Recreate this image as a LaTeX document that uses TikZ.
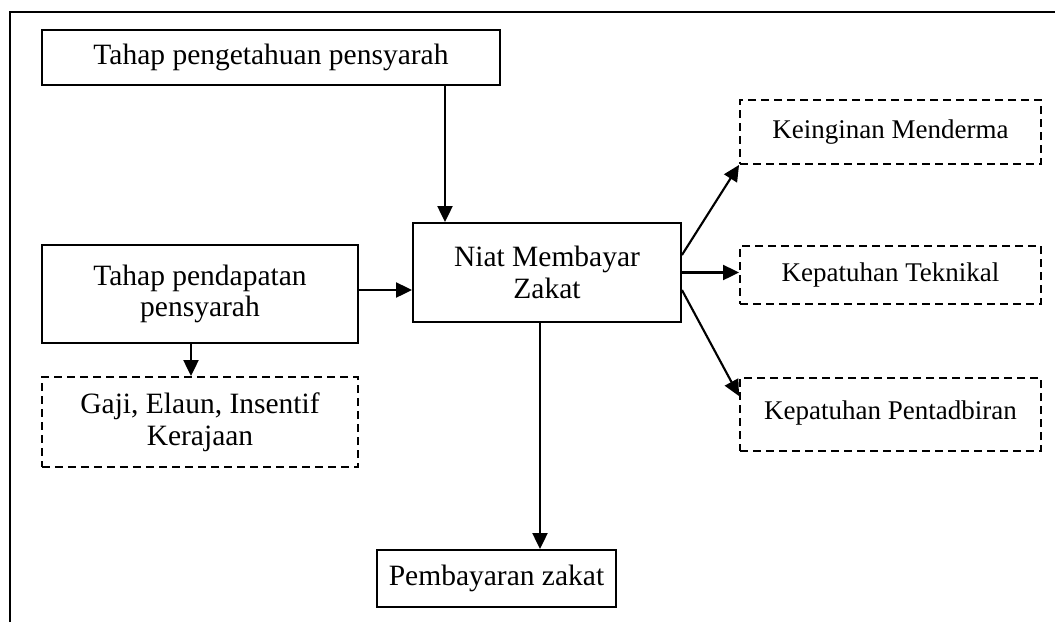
\documentclass[tikz,border=0pt]{standalone}
\usepackage{fontspec}
\setmainfont{Liberation Serif}
\usetikzlibrary{arrows.meta}
\usetikzlibrary{positioning}

\begin{document}
\begin{tikzpicture}[x=0.4pt, y=-0.4pt]
  \tikzstyle{solidbox} = [draw=black, line width=0.75pt, inner sep=0pt, align=center, font=\fontsize{11.8}{12.6}\selectfont]
  \tikzstyle{dashbox} = [solidbox, dash pattern=on 3.2pt off 2pt]
  \tikzstyle{smallbox} = [dashbox, minimum width=120.4pt, font=\fontsize{10.8}{12.6}\selectfont]
  \tikzstyle{arr} = [-{Triangle[length=6.4pt, width=6pt]}, line width=0.85pt]

  \useasboundingbox (0,0) rectangle (1055,622);

  % Frame
  \draw[line width=0.95pt] (10,622) -- (10,12) -- (1055,12);

  % Nodes
  \node[solidbox, minimum width=183.2pt, minimum height=22pt] (knowledge) at (271,57.5) {Tahap pengetahuan pensyarah};
  \node[solidbox, minimum width=126.4pt, minimum height=39.2pt] (income) at (200,294) {Tahap pendapatan\\pensyarah};
  \node[dashbox, minimum width=126.4pt, minimum height=36pt] (salary) at (200,422) {Gaji, Elaun, Insentif\\Kerajaan};
  \node[solidbox, minimum width=107.2pt, minimum height=39.6pt] (intent) at (547,272.5) {Niat Membayar\\Zakat};
  \node[solidbox, minimum width=95.6pt, minimum height=22.8pt] (payment) at (496.5,578.5) {Pembayaran zakat};

  \node[smallbox, minimum height=25.6pt] (donate) at (890.5,132) {Keinginan Menderma};
  \node[smallbox, minimum height=23.2pt] (technical) at (890.5,275) {Kepatuhan Teknikal};
  \node[smallbox, minimum height=29.2pt] (admin) at (890.5,414.5) {\raisebox{3.6pt}{Kepatuhan Pentadbiran}};

  % Edges
  \draw[arr] ([xshift=-40.8pt]intent.north |- knowledge.south) -- ([xshift=-40.8pt]intent.north);
  \draw[arr] ([yshift=1.6pt]income.east) -- ([yshift=1.6pt]income.east -| intent.west);
  \draw[arr] ([xshift=-3.6pt]income.south) -- ([xshift=-3.6pt]salary.north);
  \draw[arr] ([xshift=-2.8pt]intent.south) -- ([xshift=-2.8pt]intent.south |- payment.north);

  \draw[arr] ([yshift=7pt]intent.east) -- (donate.south west);
  \draw[arr] (intent.east) -- (intent.east -| technical.west);
  \draw[arr] ([yshift=-7pt]intent.east) -- ([yshift=-7.6pt]admin.north west);

\end{tikzpicture}
\end{document}
